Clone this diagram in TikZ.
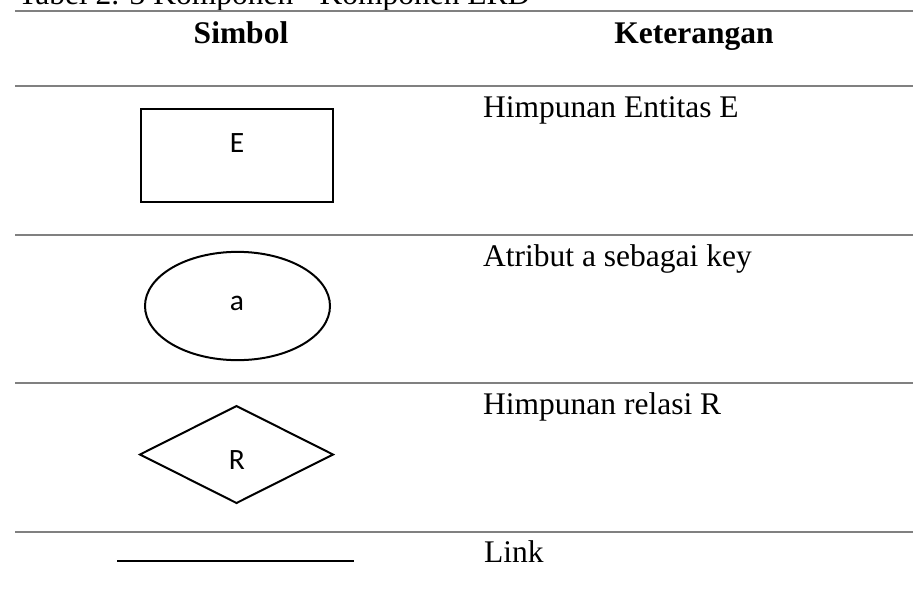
\documentclass[tikz,border=0pt]{standalone}
\usepackage{fontspec}
\setmainfont{Liberation Serif}
\newfontfamily\symfont{Carlito}
\usetikzlibrary{shapes.geometric}
\tikzset{
  rowrule/.style={draw=black!50, line width=1.7pt},
  symline/.style={draw=black, line width=2pt},
  bodytext/.style={inner sep=0pt, font=\fontsize{31.5}{36}\selectfont},
  headtext/.style={inner sep=0pt, font=\fontsize{31.5}{36}\selectfont\bfseries},
  symtext/.style={inner sep=0pt, font=\symfont\fontsize{29.5}{34}\selectfont}
}
\begin{document}
\begin{tikzpicture}[x=1pt,y=-1pt]
\useasboundingbox (0,0) rectangle (913,598);
% caption (cut off at the top)
\node[bodytext, anchor=base west] (cap) at (18,4.5) {Tabel 2. 3 Komponen - Komponen ERD};
% rules
\coordinate (r1a) at (15,11);   \coordinate (r1b) at (913,11);
\coordinate (r2a) at (15,86);   \coordinate (r2b) at (913,86);
\coordinate (r3a) at (15,235);  \coordinate (r3b) at (913,235);
\coordinate (r4a) at (15,383);  \coordinate (r4b) at (913,383);
\coordinate (r5a) at (15,532);  \coordinate (r5b) at (913,532);
\draw[rowrule] (r1a) -- (r1b);
\draw[rowrule] (r2a) -- (r2b);
\draw[rowrule] (r3a) -- (r3b);
\draw[rowrule] (r4a) -- (r4b);
\draw[rowrule] (r5a) -- (r5b);
% header
\node[headtext, anchor=base] (hsim) at (241,43) {Simbol};
\node[headtext, anchor=base] (hket) at (694,43) {Keterangan};
% row 1: entity
\node[symline, rectangle, minimum width=192pt, minimum height=92.7pt, inner sep=0pt, outer sep=0pt] (ent) at (237,155.3) {};
\node[symtext, anchor=base] (entE) at (237,152.7) {E};
\node[bodytext, anchor=base west] (d1) at (483,117) {Himpunan Entitas E};
% row 2: attribute
\node[symline, ellipse, minimum width=185pt, minimum height=108.3pt, inner sep=0pt, outer sep=0pt] (att) at (237.5,306) {};
\node[symtext, anchor=base] (atta) at (237,310) {a};
\node[bodytext, anchor=base west] (d2) at (483,266) {Atribut a sebagai key};
% row 3: relation
\node[symline, diamond, minimum width=193pt, minimum height=97pt, inner sep=0pt, outer sep=0pt] (rel) at (236.5,454.5) {};
\node[symtext, anchor=base] (relR) at (237,469) {R};
\node[bodytext, anchor=base west] (d3) at (483,414) {Himpunan relasi R};
% row 4: link
\coordinate (la) at (117,561);
\coordinate (lb) at (354,561);
\draw[line width=1.8pt] (la) -- (lb);
\node[bodytext, anchor=base west] (d4) at (484,562) {Link};
\end{tikzpicture}
\end{document}
